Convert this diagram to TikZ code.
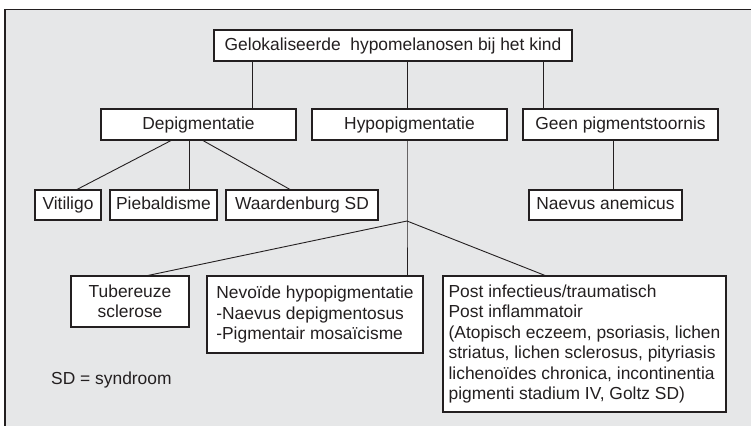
\documentclass[tikz,border=0pt]{standalone}
\usepackage{fontspec}
\setmainfont{Liberation Sans}
\definecolor{bggray}{HTML}{E6E7E8}
\definecolor{ink}{HTML}{231F20}
\begin{document}
\begin{tikzpicture}[x=1pt,y=-1pt,
  every node/.style={font=\fontsize{17.4}{20.4}\selectfont, text=ink},
  boxnode/.style={draw=ink, fill=white, line width=1.1pt, inner sep=0pt,
    minimum height=31pt, text height=12.5pt, text depth=3.5pt},
  multibox/.style={draw=ink, fill=white, line width=1.1pt, inner sep=0pt},
  link/.style={draw=ink, line width=0.9pt}]
\useasboundingbox (0,0) rectangle (751,426);
% frame
\fill[bggray] (5,9.5) rectangle (751,426);
\draw[ink, line width=1.6pt] (751,9.5) -- (5,9.5) -- (5,426);

% level 0
\node[boxnode, minimum width=358pt] (top) at (393,45.5) {Gelokaliseerde\ \ hypomelanosen bij het kind};
% level 1
\node[boxnode, minimum width=195pt] (depig) at (198.5,124.5) {Depigmentatie};
\node[boxnode, minimum width=195pt] (hypo) at (409.5,124.5) {Hypopigmentatie};
\node[boxnode, minimum width=195pt] (geen) at (620.5,124.5) {Geen pigmentstoornis};
% level 2
\node[boxnode, minimum width=66pt, minimum height=30pt] (vit) at (68,205) {Vitiligo};
\node[boxnode, minimum width=107pt, minimum height=30pt] (pie) at (163.5,205) {Piebaldisme};
\node[boxnode, minimum width=152pt, minimum height=30pt] (waar) at (302,205) {Waardenburg SD};
\node[boxnode, minimum width=153pt, minimum height=30pt] (naev) at (605.5,205) {Naevus anemicus};
% level 3
\node[multibox, minimum width=118pt, minimum height=51pt, align=center] (tub) at (130,301.5) {Tubereuze\\sclerose};
\node[multibox, minimum width=216pt, minimum height=77pt, align=left] (nev) at (315,314.5)
  {Nevoïde hypopigmentatie\\-Naevus depigmentosus\\-Pigmentair mosaïcisme};
\node[multibox, minimum width=283pt, minimum height=136pt, align=left] (post) at (584.5,344)
  {Post infectieus/traumatisch\\Post inflammatoir\\(Atopisch eczeem, psoriasis, lichen\\striatus, lichen sclerosus, pityriasis\\lichenoïdes chronica, incontinentia\\pigmenti stadium IV, Goltz SD)};
% legend
\node[anchor=west, inner sep=0pt] (legend) at (51,380) {SD = syndroom};

% connector x-positions
\coordinate (xa) at (252,0);
\coordinate (xb) at (407,0);
\coordinate (xc) at (543,0);
\coordinate (d1) at (171,0);
\coordinate (d2) at (189,0);
\coordinate (d3) at (203,0);
\coordinate (v1) at (77,0);
\coordinate (w1) at (290,0);
\coordinate (n1) at (613,0);
\coordinate (t1) at (148,0);
\coordinate (p1) at (545,0);
\coordinate (junc) at (407,221);

% connectors
\draw[link] (top.south -| xa) -- (depig.north -| xa);
\draw[link] (top.south -| xb) -- (hypo.north -| xb);
\draw[link] (top.south -| xc) -- (geen.north -| xc);
\draw[link] (depig.south -| d1) -- (vit.north -| v1);
\draw[link] (depig.south -| d2) -- (pie.north -| d2);
\draw[link] (depig.south -| d3) -- (waar.north -| w1);
\draw[link] (geen.south -| n1) -- (naev.north -| n1);
\draw[link] (hypo.south -| xb) -- (junc) -- (nev.north -| xb);
\draw[link] (junc) -- (tub.north -| t1);
\draw[link] (junc) -- (post.north -| p1);
\end{tikzpicture}
\end{document}
